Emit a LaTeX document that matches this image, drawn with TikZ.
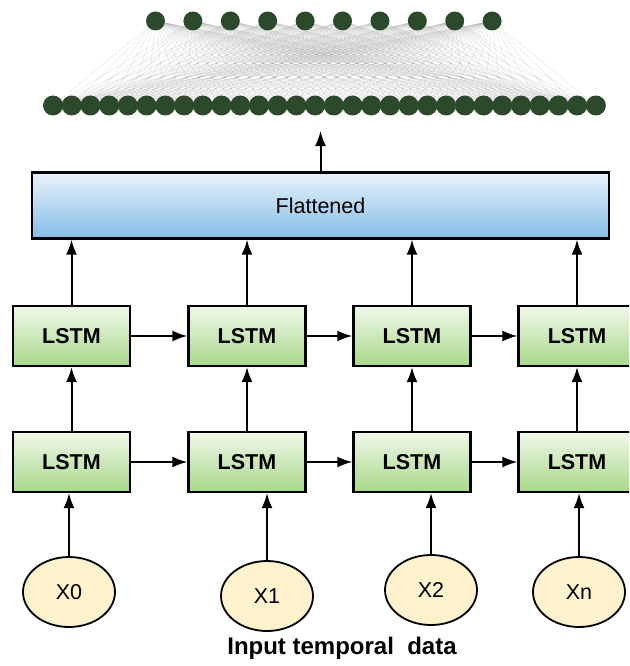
\documentclass[tikz,border=0pt]{standalone}
\usepackage{fontspec}
\setmainfont{Liberation Sans}
\usepackage{tikz}
\usetikzlibrary{
  arrows.meta,%
  shapes.geometric,%
  backgrounds,%
  positioning,
  calc
}
\definecolor{neurongreen}{HTML}{2C4A2B}
\definecolor{lstmtop}{HTML}{F0F8EA}
\definecolor{lstmbot}{HTML}{A8D889}
\definecolor{flattop}{HTML}{E9F3FB}
\definecolor{flatbot}{HTML}{84BCE6}
\definecolor{inputfill}{HTML}{FFF2CC}
\tikzset{>={Latex[length=15pt,width=11pt]}}
\tikzset{lstmbox/.style={draw, line width=2.2pt, minimum width=117pt, minimum height=60pt,
    inner sep=0pt, top color=lstmtop, bottom color=lstmbot,
    font=\fontsize{21.5}{25}\selectfont\bfseries}}
\tikzset{flatbox/.style={draw, line width=2.2pt, minimum width=577pt, minimum height=66pt,
    inner sep=0pt, top color=flattop, bottom color=flatbot,
    font=\fontsize{21.5}{25}\selectfont}}
\tikzset{inputnode/.style={ellipse, draw, line width=1.8pt, fill=inputfill,
    minimum width=92pt, minimum height=70pt, inner sep=0pt,
    font=\fontsize{21.5}{25}\selectfont}}
\tikzset{neuron/.style={circle, fill=neurongreen, inner sep=0pt, minimum size=#1}}
\tikzset{netline/.style={gray, opacity=0.2, line width=0.5pt}}
\tikzset{flow/.style={->, line width=2pt}}

\begin{document}
\begin{tikzpicture}[x=1pt, y=-1pt]
  \useasboundingbox (0,0) rectangle (629,666);
  \clip (0,0) rectangle (629,666);
  % dense layers
  \foreach \i in {0,...,9}
    \node[neuron=19pt] (out\i) at (155.5+37.4*\i, 21) {};
  \foreach \j in {0,...,29}
    \node[neuron=20pt] (dense\j) at (53+18.72*\j, 105.5) {};
  \begin{scope}[on background layer]
    \foreach \i in {0,...,9}
      \foreach \j in {0,...,29}
        \draw[netline] (out\i) -- (dense\j);
  \end{scope}

  \node[flatbox] (flat) at (320.5, 205.5) {Flattened};
  \coordinate (flatout) at (320.5, 131);
  \draw[flow] (flat.north) -- (flatout);

  % two stacked LSTM rows
  \foreach \k/\x in {1/71.5, 2/247, 3/412, 4/577} {
    \node[lstmbox] (up\k) at (\x, 336) {LSTM};
    \node[lstmbox] (low\k) at (\x, 462) {LSTM};
    \draw[flow] (low\k.north) -- (up\k.south);
    \draw[flow] (up\k.north) -- (up\k.north |- flat.south);
  }
  \foreach \k/\n in {1/2, 2/3, 3/4} {
    \draw[flow] (up\k.east) -- (up\n.west);
    \draw[flow] (low\k.east) -- (low\n.west);
  }

  % inputs
  \node[inputnode] (in1) at (69, 592) {X0};
  \node[inputnode] (in2) at (267, 596) {X1};
  \node[inputnode] (in3) at (431, 590) {X2};
  \node[inputnode] (in4) at (579, 592) {Xn};
  \foreach \k in {1,...,4}
    \draw[flow] (in\k.north) -- (in\k.north |- low\k.south);

  \node[font=\fontsize{24}{28}\selectfont\bfseries] (title) at (342, 648) {Input temporal\ \ data};
\end{tikzpicture}
\end{document}
